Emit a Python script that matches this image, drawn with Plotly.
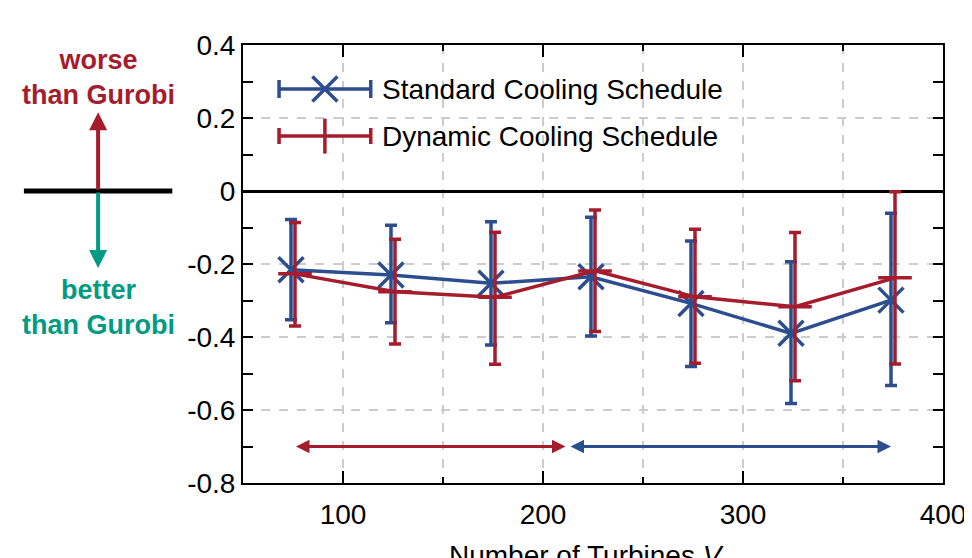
import plotly.graph_objects as go

# ---------------- data ----------------
turbines = [75, 125, 175, 225, 275, 325, 375]
x_std = [74, 124, 174, 224, 274, 324, 374]
x_dyn = [76, 126, 176, 226, 276, 326, 376]

std_mean = [-0.216, -0.230, -0.253, -0.235, -0.308, -0.390, -0.299]
std_upper = [-0.078, -0.094, -0.084, -0.072, -0.137, -0.194, -0.061]
std_lower = [-0.353, -0.361, -0.422, -0.397, -0.481, -0.582, -0.533]

dyn_mean = [-0.227, -0.276, -0.291, -0.219, -0.290, -0.317, -0.238]
dyn_upper = [-0.086, -0.132, -0.113, -0.052, -0.105, -0.114, -0.002]
dyn_lower = [-0.370, -0.419, -0.475, -0.385, -0.472, -0.520, -0.474]

y_tickvals = [0.4, 0.2, 0, -0.2, -0.4, -0.6, -0.8]
y_ticktext = ["0.4", "0.2", "0", "-0.2", "-0.4", "-0.6", "-0.8"]
x_tickvals = [100, 200, 300, 400]
x_ticktext = ["100", "200", "300", "400"]

series_names = ["Standard Cooling Schedule", "Dynamic Cooling Schedule"]
x_title = "Number of Turbines <i>V</i>"

# range arrows (data coordinates)
dyn_range = [76.5, 212]
std_range = [213, 374]
range_y = -0.70

BLUE = "#2D4E8E"
RED = "#A51C2D"
TEAL = "#009B82"
GRID = "#cccccc"
FONT = "Liberation Sans, Arial, sans-serif"

fig = go.Figure()

fig.add_trace(go.Scatter(
    x=x_std, y=std_mean, mode="lines+markers", name=series_names[0],
    line=dict(color=BLUE, width=3.5),
    marker=dict(symbol="x-thin", size=25, line=dict(color=BLUE, width=3.5)),
    error_y=dict(type="data", symmetric=False,
                 array=[u - m for u, m in zip(std_upper, std_mean)],
                 arrayminus=[m - l for m, l in zip(std_mean, std_lower)],
                 color=BLUE, thickness=3.5, width=6),
    showlegend=False,
))
fig.add_trace(go.Scatter(
    x=x_dyn, y=dyn_mean, mode="lines+markers", name=series_names[1],
    line=dict(color=RED, width=3.5),
    marker=dict(symbol="line-ew", size=24, line=dict(color=RED, width=3.5)),
    error_y=dict(type="data", symmetric=False,
                 array=[u - m for u, m in zip(dyn_upper, dyn_mean)],
                 arrayminus=[m - l for m, l in zip(dyn_mean, dyn_lower)],
                 color=RED, thickness=3.5, width=6),
    showlegend=False,
))

# ---- custom legend drawn on an overlay axis (0..1 in plot area) ----
leg_x = 0.117
leg_half = 0.0655
leg_rows = [0.8995, 0.792]
fig.add_trace(go.Scatter(
    x=[leg_x], y=[leg_rows[0]], xaxis="x2", yaxis="y2", mode="markers",
    marker=dict(symbol="x-thin", size=25, line=dict(color=BLUE, width=3.5)),
    error_x=dict(type="constant", value=leg_half, color=BLUE, thickness=3.5, width=9),
    showlegend=False, hoverinfo="skip",
))
fig.add_trace(go.Scatter(
    x=[leg_x], y=[leg_rows[1]], xaxis="x2", yaxis="y2", mode="markers",
    marker=dict(symbol="line-ns", size=25, line=dict(color=RED, width=3.5)),
    error_x=dict(type="constant", value=leg_half, color=RED, thickness=3.5, width=8),
    showlegend=False, hoverinfo="skip",
))
for name, ry in zip(series_names, leg_rows):
    fig.add_annotation(x=0.196, y=ry, xref="x2", yref="y2", text=name,
                       showarrow=False, xanchor="left", yanchor="middle",
                       font=dict(family=FONT, size=28, color="black"))

# ---- range arrows ----
fig.add_annotation(x=dyn_range[0], y=range_y, ax=dyn_range[1], ay=range_y,
                   xref="x", yref="y", axref="x", ayref="y", text="",
                   showarrow=True, arrowside="end+start", arrowhead=2,
                   arrowsize=0.9, arrowwidth=3, arrowcolor=RED)
fig.add_annotation(x=std_range[1], y=range_y, ax=std_range[0], ay=range_y,
                   xref="x", yref="y", axref="x", ayref="y", text="",
                   showarrow=True, arrowside="end+start", arrowhead=2,
                   arrowsize=0.9, arrowwidth=3, arrowcolor=BLUE)

# ---- left explanatory glyph ----
fig.add_shape(type="line", xref="paper", yref="y", x0=-0.313, x1=-0.101,
              y0=0, y1=0, line=dict(color="black", width=5))
fig.add_annotation(x=-0.207, y=0.216, xref="paper", yref="y", ax=0, ay=79,
                   text="", showarrow=True, arrowhead=2, arrowsize=0.9,
                   arrowwidth=4, arrowcolor=RED)
fig.add_annotation(x=-0.207, y=-0.211, xref="paper", yref="y", ax=0, ay=-77,
                   text="", showarrow=True, arrowhead=2, arrowsize=0.9,
                   arrowwidth=4, arrowcolor=TEAL)
fig.add_annotation(x=-0.207, y=0.31, xref="paper", yref="y",
                   text="<b>worse</b><br><b>than Gurobi</b>", showarrow=False,
                   xanchor="center", yanchor="middle", align="center",
                   font=dict(family=FONT, size=27, color=RED))
fig.add_annotation(x=-0.207, y=-0.318, xref="paper", yref="y",
                   text="<b>better</b><br><b>than Gurobi</b>", showarrow=False,
                   xanchor="center", yanchor="middle", align="center",
                   font=dict(family=FONT, size=27, color=TEAL))

# ---- x axis title (partly cut off at the bottom, as in the reference) ----
fig.add_annotation(x=0.49, y=0, xref="paper", yref="paper", yshift=-55,
                   text=x_title, showarrow=False, xanchor="center", yanchor="top",
                   font=dict(family=FONT, size=28, color="black"))

fig.update_layout(
    width=972, height=558,
    margin=dict(l=235, r=37, t=37, b=83, autoexpand=False),
    paper_bgcolor="white", plot_bgcolor="white",
    font=dict(family=FONT, size=28, color="black"),
    showlegend=False,
    xaxis=dict(
        range=[50, 400], tickvals=x_tickvals, ticktext=x_ticktext,
        automargin=False, ticklabelstandoff=5,
        ticks="inside", ticklen=12, tickwidth=2, tickcolor="black",
        showline=True, linecolor="black", linewidth=2, mirror="allticks",
        showgrid=True, gridcolor=GRID, griddash="dash", gridwidth=1.5,
        zeroline=False,
        minor=dict(dtick=50, tick0=0, ticks="inside", ticklen=6, tickwidth=1.5,
                   tickcolor="black", showgrid=True, gridcolor=GRID,
                   griddash="dash", gridwidth=1.5),
        tickfont=dict(family=FONT, size=28),
    ),
    yaxis=dict(
        range=[-0.8, 0.4], tickvals=y_tickvals, ticktext=y_ticktext,
        automargin=False, ticklabelstandoff=0,
        ticks="inside", ticklen=10, tickwidth=2, tickcolor="black",
        showline=True, linecolor="black", linewidth=2, mirror="allticks",
        showgrid=True, gridcolor=GRID, griddash="dash", gridwidth=1.5,
        zeroline=True, zerolinecolor="black", zerolinewidth=3,
        minor=dict(dtick=0.1, tick0=0, ticks="inside", ticklen=10, tickwidth=1.5,
                   tickcolor="black", showgrid=False),
        tickfont=dict(family=FONT, size=28),
    ),
    xaxis2=dict(overlaying="x", range=[0, 1], visible=False, fixedrange=True),
    yaxis2=dict(overlaying="y", range=[0, 1], visible=False, fixedrange=True),
)

fig.write_html("out.html")
